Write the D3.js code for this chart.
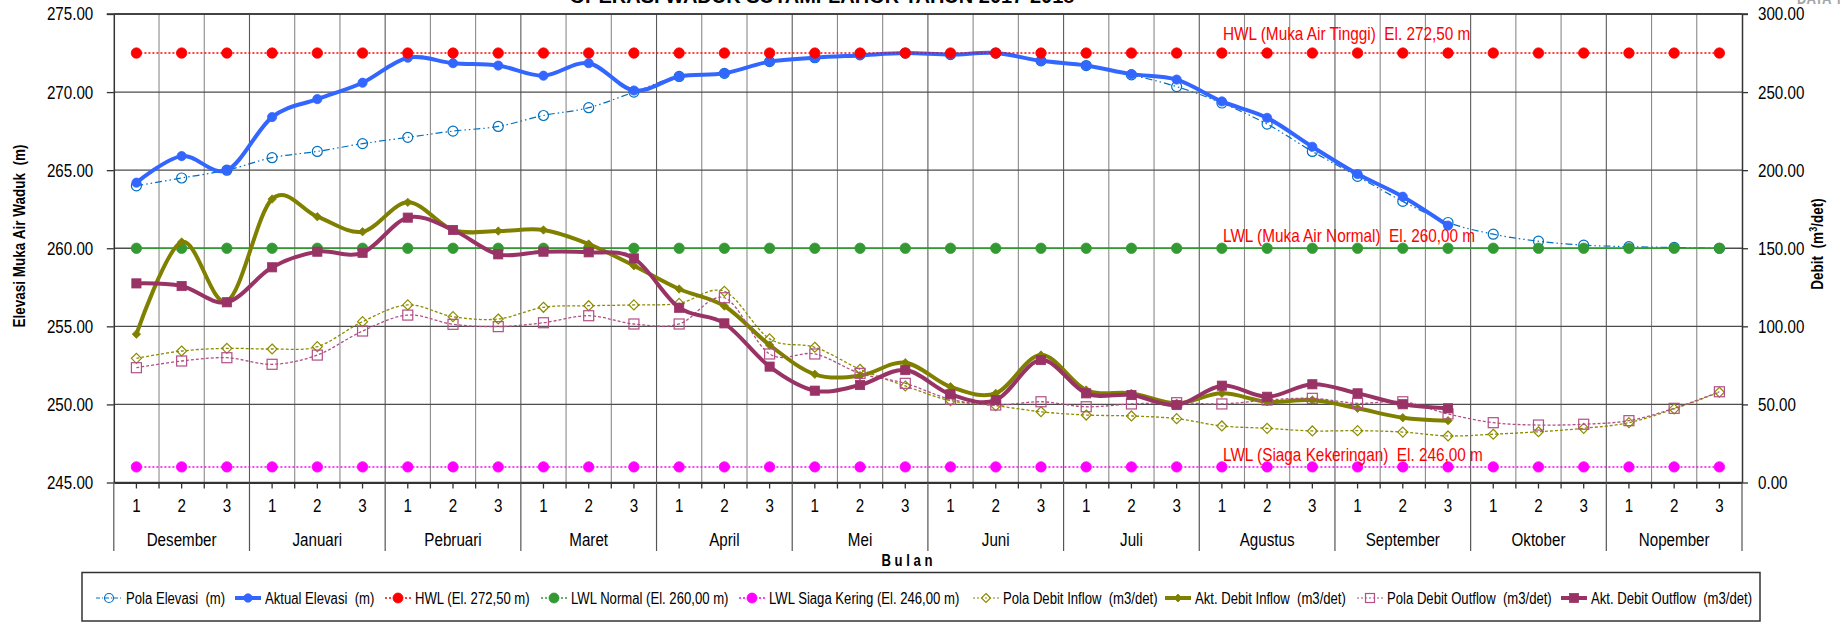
<!DOCTYPE html>
<html><head><meta charset="utf-8">
<script src="https://cdn.jsdelivr.net/npm/d3@7"></script>
<style>
body{margin:0;background:#fff;overflow:hidden;}
svg text{font-family:"Liberation Sans",Arial,sans-serif;white-space:pre;}
</style></head><body>
<svg id="c" width="1840" height="625"></svg>
<script>
// ---------------- DATA ----------------
const months = ["Desember","Januari","Pebruari","Maret","April","Mei","Juni","Juli","Agustus","September","Oktober","Nopember"];
const dekads = ["1","2","3"];
const categories = months.flatMap(m => dekads.map(d => m + " " + d));

const polaElevasi = [264.0,264.5,265.0,265.8,266.2,266.7,267.1,267.5,267.8,268.5,269.0,270.0,
  271.0,271.2,271.95,272.2,272.4,272.5,272.4,272.5,272.0,271.7,271.1,270.35,
  269.3,267.95,266.2,264.6,263.0,261.65,260.9,260.45,260.2,260.1,260.05,260.0];
const aktualElevasi = [264.2,265.9,265.0,268.4,269.55,270.6,272.2,271.85,271.7,271.05,271.85,270.1,
  271.0,271.2,271.95,272.2,272.35,272.5,272.4,272.5,272.0,271.7,271.15,270.8,
  269.4,268.35,266.5,264.75,263.3,261.45];
const hwlLevel = 272.5, lwlNormalLevel = 260.0, lwlSiagaLevel = 246.0;

const polaInflow = [79.5,84.2,85.9,85.5,87.0,103.0,113.7,106.2,104.7,112.2,113.2,113.7,
  114.7,122.4,92.0,86.6,72.5,61.8,52.4,49.2,45.3,43.2,42.6,40.9,
  36.2,34.7,33.0,33.2,32.3,29.8,30.9,32.5,34.7,38.3,47.1,57.8];
const aktInflow = [95.0,154.0,116.0,181.5,170.2,160.6,179.4,161.7,161.0,161.7,152.7,138.8,
  123.9,113.0,88.0,69.3,68.4,76.7,61.3,57.1,81.6,59.2,57.1,50.7,
  57.1,51.7,52.8,47.5,41.5,39.6];
const polaOutflow = [73.5,77.8,79.9,75.7,81.6,97.0,107.2,101.3,99.8,102.3,106.8,101.5,
  101.5,118.3,82.3,82.3,69.9,63.5,53.3,49.6,51.7,48.5,50.3,51.1,
  50.3,52.8,53.9,50.7,51.7,43.9,38.3,36.8,37.3,39.6,47.5,58.1];
const aktOutflow = [127.5,125.8,115.4,137.8,147.8,147.1,169.6,161.7,146.1,147.8,147.4,143.5,
  111.9,101.9,74.2,58.8,62.4,72.0,56.5,52.8,78.4,57.1,56.0,49.6,
  62.0,54.9,62.9,57.1,50.1,47.5];

const leftTicks = [245,250,255,260,265,270,275];
const rightTicks = [0,50,100,150,200,250,300];

const titleText = "OPERASI WADUK SUTAMI-LAHOR TAHUN 2017-2018";
const leftTitle = "Elevasi Muka Air Waduk  (m)";
const xTitle = "B u l a n";
const refLabels = ["HWL (Muka Air Tinggi)  El. 272,50 m","LWL (Muka Air Normal)  El. 260,00 m","LWL (Siaga Kekeringan)  El. 246,00 m"];
const legendNames = ["Pola Elevasi  (m)","Aktual Elevasi  (m)","HWL (El. 272,50 m)","LWL Normal (El. 260,00 m)","LWL Siaga Kering (El. 246,00 m)",
  "Pola Debit Inflow  (m3/det)","Akt. Debit Inflow  (m3/det)","Pola Debit Outflow  (m3/det)","Akt. Debit Outflow  (m3/det)"];

// ---------------- LAYOUT ----------------
const NS = 0.82; // narrow font horizontal scale
const svg = d3.select("#c");
const L = 113.8, R = 1742, T = 14, B = 482.5;
const x = d3.scaleBand().domain(categories).range([L, R]);
const cx = i => x(categories[i]) + x.bandwidth() / 2;
const yL = d3.scaleLinear().domain([245, 275]).range([B, T]);
const yR = d3.scaleLinear().domain([0, 300]).range([B, T]);
const mx = d3.scaleBand().domain(months).range([L, R]);

const C = {
  pola: "#0070C0", akt: "#3366FF", hwl: "#FF0000", lwlN: "#339933", lwlS: "#FF00FF",
  inPola: "#8C8C00", inAkt: "#808000", outPola: "#B24F86", outAkt: "#993366"
};

function nt(parent, px, py, str, size, extra) {
  const t = parent.append("text")
    .attr("transform", `translate(${px},${py})${extra || ""} scale(${NS},1)`)
    .attr("font-size", size).text(str);
  return t;
}

// title (cut off at top)
svg.append("text").attr("x", 822).attr("y", 2.5).attr("text-anchor", "middle")
  .attr("font-size", 20).attr("font-weight", "bold").attr("fill", "#000").text(titleText);
nt(svg, 1797, 4, "DATA TMA", 16).attr("font-weight", "bold").attr("fill", "#a6a6a6");

// gridlines
const grid = svg.append("g");
categories.forEach((c, i) => {
  if (i === 0) return;
  grid.append("line").attr("x1", x(c)).attr("x2", x(c)).attr("y1", T).attr("y2", B)
    .attr("stroke", i % 3 === 0 ? "#5a5a5a" : "#8a8a8a").attr("stroke-width", 1.1);
});
leftTicks.forEach(v => {
  grid.append("line").attr("x1", L).attr("x2", R).attr("y1", yL(v)).attr("y2", yL(v))
    .attr("stroke", "#4d4d4d").attr("stroke-width", 1.3);
});

// axes
function styleAxis(sel) {
  sel.selectAll("text").attr("font-size", 18.5).attr("fill", "#000")
    .style("font-family", '"Liberation Sans",Arial,sans-serif');
  sel.selectAll("line").attr("stroke", "#333").attr("stroke-width", 1.3);
  sel.select(".domain").attr("stroke", "#333").attr("stroke-width", 1.5);
}
const la = svg.append("g").attr("transform", `translate(${L},0)`)
  .call(d3.axisLeft(yL).tickValues(leftTicks).tickFormat(d3.format(".2f")).tickSize(7).tickSizeOuter(0))
  .call(styleAxis);
la.selectAll(".tick text").attr("x", -20.5 / NS).attr("transform", `scale(${NS},1)`);
const ra = svg.append("g").attr("transform", `translate(${R},0)`)
  .call(d3.axisRight(yR).tickValues(rightTicks).tickFormat(d3.format(".2f")).tickSize(6).tickSizeOuter(0))
  .call(styleAxis);
ra.selectAll(".tick text").attr("x", 16 / NS).attr("transform", `scale(${NS},1)`);
const xb = svg.append("g").attr("transform", `translate(0,${B})`)
  .call(d3.axisBottom(x).tickFormat((d, i) => dekads[i % 3]).tickSize(6).tickPadding(10).tickSizeOuter(0))
  .call(styleAxis);
xb.selectAll(".tick text").attr("transform", `scale(${NS},1)`);
xb.select(".domain").attr("stroke-width", 2.2);
// boundary ticks and month separators
categories.forEach((c, i) => {
  if (i === 0) return;
  const isMonth = i % 3 === 0;
  svg.append("line").attr("x1", x(c)).attr("x2", x(c)).attr("y1", B).attr("y2", isMonth ? 551 : B + 6)
    .attr("stroke", isMonth ? "#555" : "#333").attr("stroke-width", isMonth ? 1.2 : 1.3);
});
[L, R].forEach(v => svg.append("line").attr("x1", v).attr("x2", v).attr("y1", B).attr("y2", 551)
  .attr("stroke", "#555").attr("stroke-width", 1.2));
// top border
svg.append("line").attr("x1", L - 7).attr("x2", R + 6).attr("y1", T).attr("y2", T).attr("stroke", "#333").attr("stroke-width", 1.6);
// month labels
const mg = svg.append("g");
months.forEach(m => nt(mg, mx(m) + mx.bandwidth() / 2, 546, m, 18.5).attr("text-anchor", "middle"));
nt(svg, 907, 566, xTitle, 16).attr("text-anchor", "middle").attr("font-weight", "bold");

// axis titles
nt(svg, 25, 236, leftTitle, 16.5, " rotate(-90)").attr("text-anchor", "middle").attr("font-weight", "bold");
const rt = nt(svg, 1823, 244, "", 16.5, " rotate(-90)").attr("text-anchor", "middle").attr("font-weight", "bold");
rt.append("tspan").text("Debit  (m");
rt.append("tspan").attr("font-size", 11).attr("dy", -6).text("3");
rt.append("tspan").attr("dy", 6).text("/det)");

// ---------------- SERIES ----------------
const smooth = d3.curveCardinal.tension(0);
function drawLine(vals, scale, opt) {
  const ln = d3.line().x((d, i) => cx(i)).y(d => scale(d)).curve(opt.curve || d3.curveLinear);
  svg.append("path").attr("d", ln(vals)).attr("fill", "none").attr("stroke", opt.color)
    .attr("stroke-width", opt.width).attr("stroke-dasharray", opt.dash || null)
    .attr("stroke-linejoin", "round").attr("stroke-linecap", opt.cap || "butt");
}
function marker(g, type, px, py, color, size, filled) {
  const s = size;
  let el;
  if (type === "circle") el = g.append("circle").attr("cx", px).attr("cy", py).attr("r", s);
  else if (type === "square") el = g.append("rect").attr("x", px - s).attr("y", py - s).attr("width", 2 * s).attr("height", 2 * s);
  else if (type === "diamond") el = g.append("path").attr("d", `M${px},${py - s}L${px + s},${py}L${px},${py + s}L${px - s},${py}Z`);
  el.attr("fill", filled ? color : "none").attr("stroke", color).attr("stroke-width", filled ? 0.8 : 1.2);
}
function drawMarkers(vals, scale, type, color, size, filled) {
  const g = svg.append("g");
  vals.forEach((v, i) => marker(g, type, cx(i), scale(v), color, size, filled));
}
const hwlVals = categories.map(() => hwlLevel);
const lwlNVals = categories.map(() => lwlNormalLevel);
const lwlSVals = categories.map(() => lwlSiagaLevel);

// primary axis series
drawLine(polaElevasi, yL, {color: C.pola, width: 1.2, dash: "7,3,1.5,3,1.5,3", curve: smooth});
drawMarkers(polaElevasi, yL, "circle", C.pola, 5, false);
drawLine(aktualElevasi, yL, {color: C.akt, width: 4, curve: smooth, cap: "round"});
drawMarkers(aktualElevasi, yL, "circle", C.akt, 4.6, true);
drawLine(hwlVals, yL, {color: C.hwl, width: 1.5, dash: "2,2"});
drawMarkers(hwlVals, yL, "circle", C.hwl, 5.2, true);
drawLine(lwlNVals, yL, {color: C.lwlN, width: 1.3});
drawMarkers(lwlNVals, yL, "circle", C.lwlN, 5.2, true);
drawLine(lwlSVals, yL, {color: C.lwlS, width: 1.5, dash: "2,2"});
drawMarkers(lwlSVals, yL, "circle", C.lwlS, 5.2, true);

// secondary axis series
drawLine(polaInflow, yR, {color: C.inPola, width: 1.3, dash: "3,2", curve: smooth});
drawMarkers(polaInflow, yR, "diamond", C.inPola, 5, false);
drawLine(aktInflow, yR, {color: C.inAkt, width: 4, curve: smooth, cap: "round"});
drawMarkers(aktInflow, yR, "diamond", C.inAkt, 4.2, true);
drawLine(polaOutflow, yR, {color: C.outPola, width: 1.3, dash: "3,2", curve: smooth});
drawMarkers(polaOutflow, yR, "square", C.outPola, 5, false);
drawLine(aktOutflow, yR, {color: C.outAkt, width: 4, curve: smooth, cap: "round"});
drawMarkers(aktOutflow, yR, "square", C.outAkt, 4.6, true);

// reference labels
[[refLabels[0], 40], [refLabels[1], 242], [refLabels[2], 461]].forEach(([t, yy]) => {
  nt(svg, 1223, yy, t, 18.7).attr("fill", "#FF0000");
});

// ---------------- LEGEND ----------------
const lg = svg.append("g");
lg.append("rect").attr("x", 82).attr("y", 572.5).attr("width", 1678).attr("height", 48.5)
  .attr("fill", "#fff").attr("stroke", "#333").attr("stroke-width", 1.5);
const legItems = [
  {x: 96, color: C.pola, w: 1.2, dash: "4,2,1,2", m: "circle", s: 4.5, f: false},
  {x: 235, color: C.akt, w: 4, m: "circle", s: 4.2, f: true},
  {x: 385, color: C.hwl, w: 1.3, dash: "2,2", m: "circle", s: 5, f: true},
  {x: 541, color: C.lwlN, w: 1.3, dash: "2,2", m: "circle", s: 5, f: true},
  {x: 739, color: C.lwlS, w: 1.3, dash: "2,2", m: "circle", s: 5, f: true},
  {x: 973, color: C.inPola, w: 1.2, dash: "2,2", m: "diamond", s: 4.5, f: false},
  {x: 1165, color: C.inAkt, w: 4, m: "diamond", s: 4, f: true},
  {x: 1357, color: C.outPola, w: 1.2, dash: "2,2", m: "square", s: 4.5, f: false},
  {x: 1561, color: C.outAkt, w: 4, m: "square", s: 4.5, f: true}
];
const ly = 598;
legItems.forEach((it, i) => {
  lg.append("line").attr("x1", it.x).attr("x2", it.x + 26).attr("y1", ly).attr("y2", ly)
    .attr("stroke", it.color).attr("stroke-width", it.w).attr("stroke-dasharray", it.dash || null);
  marker(lg, it.m, it.x + 13, ly, it.color, it.s, it.f);
  nt(lg, it.x + 30, ly + 6, legendNames[i], 16);
});
</script></body></html>
